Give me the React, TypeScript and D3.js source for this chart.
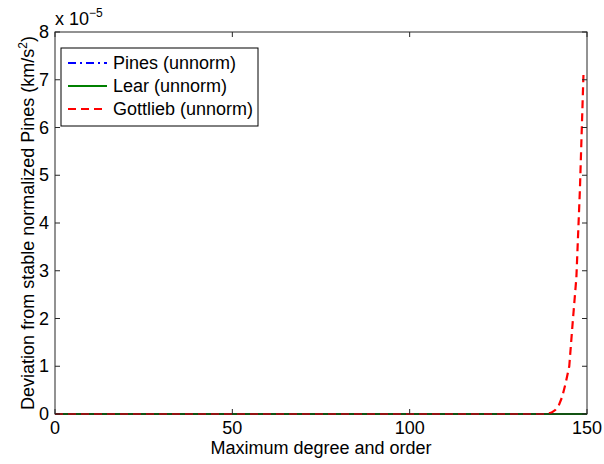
import React, { useRef, useEffect } from 'react';
import * as d3 from 'd3';

// values in units of 1e-5 km/s^2
const pinesDegrees = [0, 150];
const pinesValues = [0, 0];
const learDegrees = [0, 150];
const learValues = [0, 0];
const gottliebDegrees = [0, 138, 139, 140, 141, 142, 143, 144, 145, 146, 147, 148, 149];
const gottliebValues = [0, 0, 0.01, 0.03, 0.08, 0.17, 0.36, 0.65, 1.0, 1.95, 2.85, 4.7, 7.1];

const xTicks = [0, 50, 100, 150];
const yTicks = [0, 1, 2, 3, 4, 5, 6, 7, 8];

const seriesNames = ['Pines (unnorm)', 'Lear (unnorm)', 'Gottlieb (unnorm)'];
const seriesColors = ['#0000ff', '#008000', '#ff0000'];
const seriesDash = ['8,4,2,4', null, '8,5'];

const FONT = 'Liberation Sans, Arial, Helvetica, sans-serif';

const App = () => {
  const svgRef = useRef<SVGSVGElement>(null);

  useEffect(() => {
    const svg = d3.select(svgRef.current);
    svg.selectAll('*').remove();

    const margin = { top: 32, right: 17, bottom: 50, left: 55 };
    const W = 604, H = 464;
    const width = W - margin.left - margin.right;
    const height = H - margin.top - margin.bottom;
    const fs = 18;

    svg.append('rect').attr('width', W).attr('height', H).attr('fill', '#fff');

    const g = svg.append('g').attr('transform', `translate(${margin.left},${margin.top})`);

    const x = d3.scaleLinear().domain([0, 150]).range([0, width]);
    const y = d3.scaleLinear().domain([0, 8]).range([height, 0]);

    // lines
    const series = [
      { xs: pinesDegrees, ys: pinesValues },
      { xs: learDegrees, ys: learValues },
      { xs: gottliebDegrees, ys: gottliebValues },
    ];
    const line = d3.line<[number, number]>().x(d => x(d[0])).y(d => y(d[1]));

    series.forEach((s, i) => {
      const pts = s.xs.map((d, j) => [d, s.ys[j]] as [number, number]);
      g.append('path')
        .attr('d', line(pts))
        .attr('fill', 'none')
        .attr('stroke', seriesColors[i])
        .attr('stroke-width', 2.2)
        .attr('stroke-dasharray', seriesDash[i])
        .attr('stroke-linejoin', 'round');
    });

    // box + ticks
    const axisColor = '#262626';
    g.append('rect')
      .attr('width', width).attr('height', height)
      .attr('fill', 'none').attr('stroke', axisColor).attr('stroke-width', 1);

    xTicks.forEach(t => {
      g.append('line').attr('x1', x(t)).attr('x2', x(t)).attr('y1', height).attr('y2', height - 5).attr('stroke', axisColor);
      g.append('line').attr('x1', x(t)).attr('x2', x(t)).attr('y1', 0).attr('y2', 5).attr('stroke', axisColor);
      g.append('text')
        .attr('x', x(t)).attr('y', height + 20)
        .attr('text-anchor', 'middle')
        .attr('font-family', FONT).attr('font-size', fs).attr('fill', '#000')
        .text(t);
    });

    yTicks.forEach(t => {
      g.append('line').attr('x1', 0).attr('x2', 5).attr('y1', y(t)).attr('y2', y(t)).attr('stroke', axisColor);
      g.append('line').attr('x1', width).attr('x2', width - 5).attr('y1', y(t)).attr('y2', y(t)).attr('stroke', axisColor);
      g.append('text')
        .attr('x', -6).attr('y', y(t) + 6)
        .attr('text-anchor', 'end')
        .attr('font-family', FONT).attr('font-size', fs).attr('fill', '#000')
        .text(t);
    });

    // exponent
    const ex = g.append('text')
      .attr('x', 0).attr('y', -7)
      .attr('font-family', FONT).attr('font-size', fs).attr('fill', '#000');
    ex.append('tspan').text('x 10');
    ex.append('tspan').attr('dy', -8).attr('font-size', 12).text('\u22125');

    // axis labels
    g.append('text')
      .attr('x', width / 2).attr('y', height + 40)
      .attr('text-anchor', 'middle')
      .attr('font-family', FONT).attr('font-size', fs).attr('fill', '#000')
      .text('Maximum degree and order');

    const yl = g.append('text')
      .attr('transform', `translate(-21,${height / 2}) rotate(-90)`)
      .attr('text-anchor', 'middle')
      .attr('font-family', FONT).attr('font-size', fs).attr('fill', '#000');
    yl.append('tspan').text('Deviation from stable normalized Pines (km/s');
    yl.append('tspan').attr('dy', -7).attr('font-size', 12).text('2');
    yl.append('tspan').attr('dy', 7).text(')');

    // legend
    const lg = svg.append('g').attr('transform', 'translate(61,48)');
    lg.append('rect')
      .attr('width', 197).attr('height', 78)
      .attr('fill', '#fff').attr('stroke', '#000').attr('stroke-width', 1);
    seriesNames.forEach((name, i) => {
      const ly = 15 + i * 23;
      lg.append('line')
        .attr('x1', 7).attr('x2', 46).attr('y1', ly).attr('y2', ly)
        .attr('stroke', seriesColors[i]).attr('stroke-width', 2.2)
        .attr('stroke-dasharray', seriesDash[i]);
      lg.append('text')
        .attr('x', 52).attr('y', ly + 6)
        .attr('font-family', FONT).attr('font-size', fs).attr('fill', '#000')
        .text(name);
    });
  }, []);

  return (
    <svg
      ref={svgRef}
      width={604}
      height={464}
      style={{ position: 'absolute', left: 0, top: 0 }}
    />
  );
};

export default App;
